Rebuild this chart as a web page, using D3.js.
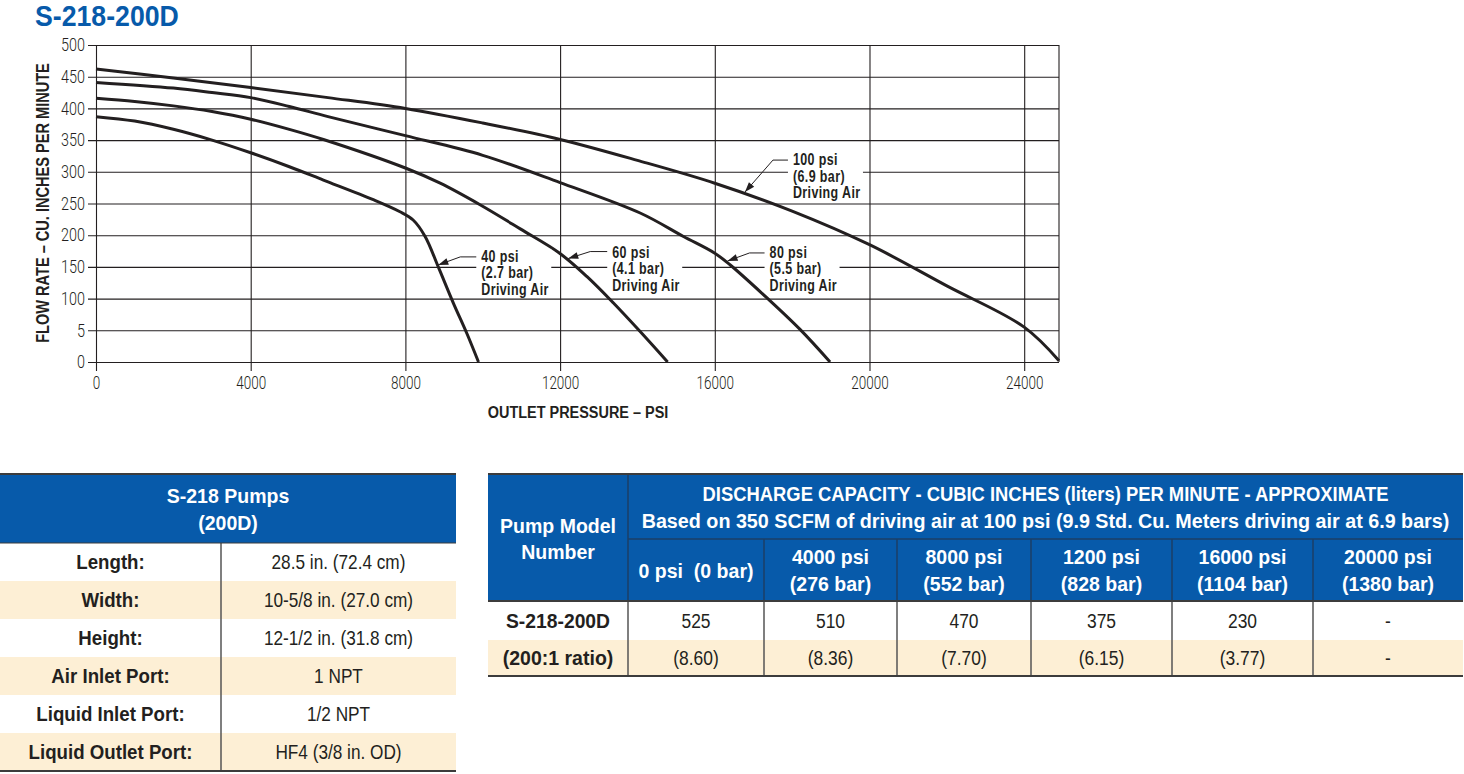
<!DOCTYPE html>
<html>
<head>
<meta charset="utf-8">
<script src="https://cdn.jsdelivr.net/npm/d3@7"></script>
<style>
  body { margin: 0; background: #fff; }
  svg { display: block; }
  text { white-space: pre; }
</style>
</head>
<body>
<script>
// ---- data ----
var pressureTicks = [0, 4000, 8000, 12000, 16000, 20000, 24000];
var flowTicks = [0, 50, 100, 150, 200, 250, 300, 350, 400, 450, 500];
var flowTickLabels = ["0", "5", "100", "150", "200", "250", "300", "350", "400", "450", "500"];

var seriesNames = ["40 psi", "60 psi", "80 psi", "100 psi"];

var p40 = [0, 1000, 2000, 3000, 4000, 5000, 5880, 7170, 7860, 8200, 8510, 8850, 9240, 9590, 9890];
var f40 = [387, 380, 367, 350, 330, 308, 287, 256, 237, 224, 198, 150, 93, 45, 0];

var p60 = [0, 1000, 2000, 3000, 4000, 5000, 5880, 8000, 8900, 9930, 10970, 11980, 12690, 13380, 14070, 14780];
var f60 = [416, 411, 404, 395, 383, 367, 351, 306, 282, 248, 210, 172, 135, 93, 48, 0];

var p80 = [0, 2000, 3000, 4000, 5000, 6000, 8000, 10000, 12000, 14070, 15190, 15990, 16400, 17350, 18210, 18980];
var f80 = [441, 432, 425, 417, 403, 387, 357, 326, 283, 235, 198, 172, 153, 101, 51, 0];

var p100 = [0, 2000, 4000, 6000, 8000, 10000, 12000, 14000, 16000, 18000, 20000, 22000, 24000, 24900];
var f100 = [462, 448, 433, 417, 400, 377, 351, 318, 282, 238, 185, 120, 55, 2];

var annoLines = [
  ["40 psi", "(2.7 bar)", "Driving Air"],
  ["60 psi", "(4.1 bar)", "Driving Air"],
  ["80 psi", "(5.5 bar)", "Driving Air"],
  ["100 psi", "(6.9 bar)", "Driving Air"]
];
var annoTipPressure = [8850, 12210, 16330, 16780];

var specLabels = ["Length:", "Width:", "Height:", "Air Inlet Port:", "Liquid Inlet Port:", "Liquid Outlet Port:"];
var specValues = ["28.5 in. (72.4 cm)", "10-5/8 in. (27.0 cm)", "12-1/2 in. (31.8 cm)", "1 NPT", "1/2 NPT", "HF4 (3/8 in. OD)"];

var capHeads = [["0 psi  (0 bar)"], ["4000 psi", "(276 bar)"], ["8000 psi", "(552 bar)"],
  ["1200 psi", "(828 bar)"], ["16000 psi", "(1104 bar)"], ["20000 psi", "(1380 bar)"]];
var capCubic = ["525", "510", "470", "375", "230", "-"];
var capLiters = ["(8.60)", "(8.36)", "(7.70)", "(6.15)", "(3.77)", "-"];

// ---- drawing ----
var W = 1464, H = 774;
var INK = "#231f20", BLUE = "#075aaa", CREAM = "#fdefd5", RULE = "#3c3c3c";
var SANS = "'Liberation Sans', Arial, sans-serif";
var THIN = "Roboto, 'Liberation Sans', sans-serif";

var svg = d3.select("body").append("svg").attr("width", W).attr("height", H);

// text helper, sx squeezes the glyphs to get a condensed face
function put(g, x, y, s, o) {
  o = o || {};
  return g.append("text")
    .attr("transform", "translate(" + x + "," + y + ")" + (o.rot ? " rotate(" + o.rot + ")" : "") +
      " scale(" + (o.sx || 1) + ",1)")
    .attr("text-anchor", o.anchor || "start")
    .style("font-family", o.font || SANS)
    .style("font-size", (o.size || 16) + "px")
    .style("font-weight", o.weight || "normal")
    .style("letter-spacing", o.ls || 0)
    .attr("fill", o.fill || INK)
    .text(s);
}

put(svg, 35, 26, "S-218-200D", {size: 29, weight: "bold", sx: 0.92, fill: BLUE});

var x = d3.scaleLinear().domain([0, 24900]).range([96, 1059]);
var y = d3.scaleLinear().domain([0, 500]).range([362, 45]);

var chart = svg.append("g");

var yAxis = d3.axisLeft(y).tickValues(flowTicks).tickSize(-(1059 - 88)).tickPadding(4)
  .tickFormat(function(d) { return flowTickLabels[flowTicks.indexOf(d)]; });
chart.append("g").attr("transform", "translate(88,0)").call(yAxis)
  .call(function(g) { g.select(".domain").remove(); });

var xAxis = d3.axisBottom(x).tickValues(pressureTicks).tickSize(-(371 - 45)).tickPadding(5)
  .tickFormat(d3.format("d"));
chart.append("g").attr("transform", "translate(0,371)").call(xAxis)
  .call(function(g) { g.select(".domain").remove(); });

chart.selectAll(".tick line").attr("stroke", INK).attr("stroke-width", 1.1);
chart.selectAll(".tick text").attr("fill", INK)
  .style("font-family", THIN).style("font-size", "18px").style("font-weight", 300);
chart.selectAll("g[text-anchor=end] .tick text").attr("x", 0)
  .attr("transform", "translate(-3,0) scale(0.8,1)");
chart.selectAll("g[text-anchor=middle] .tick text").attr("transform", "scale(0.75,1)");

// right frame edge
chart.append("line")
  .attr("x1", x(24900)).attr("x2", x(24900)).attr("y1", y(0)).attr("y2", y(500))
  .attr("stroke", INK).attr("stroke-width", 1.1);

// axis titles
put(chart, 49, 203, "FLOW RATE \u2013 CU. INCHES PER MINUTE",
  {size: 18, weight: "bold", anchor: "middle", rot: -90, sx: 0.81});
put(chart, 578, 418, "OUTLET PRESSURE \u2013 PSI",
  {size: 17, weight: "bold", anchor: "middle", sx: 0.85});

// curves
var pts = [d3.zip(p40, f40), d3.zip(p60, f60), d3.zip(p80, f80), d3.zip(p100, f100)];
var line = d3.line().x(function(d) { return x(d[0]); }).y(function(d) { return y(d[1]); })
  .curve(d3.curveCatmullRom.alpha(0.5));
chart.selectAll(".curve").data(pts).enter().append("path")
  .attr("class", "curve")
  .attr("d", line)
  .attr("fill", "none")
  .attr("stroke", INK)
  .attr("stroke-width", 3)
  .attr("stroke-linejoin", "round");

// annotations
function flowAt(p, ps, fs) {
  var i = d3.bisectRight(ps, p) - 1;
  i = Math.max(0, Math.min(ps.length - 2, i));
  var t = (p - ps[i]) / (ps[i + 1] - ps[i]);
  return fs[i] + t * (fs[i + 1] - fs[i]);
}
var pArr = [p40, p60, p80, p100], fArr = [f40, f60, f80, f100];
// elbow offsets (px) from the arrow tip, and text baseline offset
var elbow = [[22, -8], [22, -7], [22, -8], [28, -32]];
var leadLen = [16, 17, 15, 15];
var textShift = [0, 1, 0, 0];

annoLines.forEach(function(lines, k) {
  var tp = annoTipPressure[k];
  var tx = x(tp), ty = y(flowAt(tp, pArr[k], fArr[k])) - 2;
  var ex = tx + elbow[k][0], ey = ty + elbow[k][1];
  var hx = ex + leadLen[k];
  var g = chart.append("g");
  g.append("rect")
    .attr("x", hx).attr("y", ey - 8 + textShift[k])
    .attr("width", 75).attr("height", 48)
    .attr("fill", "#fff");
  g.append("path")
    .attr("d", "M" + tx + "," + ty + "L" + ex + "," + ey + "H" + hx)
    .attr("fill", "none").attr("stroke", INK).attr("stroke-width", 1);
  var a = Math.atan2(ty - ey, tx - ex);
  var L = 10, w = 3.5;
  var bx = tx - L * Math.cos(a), by = ty - L * Math.sin(a);
  g.append("path")
    .attr("d", "M" + tx + "," + ty +
      "L" + (bx - w * Math.sin(a)) + "," + (by + w * Math.cos(a)) +
      "L" + (bx + w * Math.sin(a)) + "," + (by - w * Math.cos(a)) + "Z")
    .attr("fill", INK);
  lines.forEach(function(s, j) {
    put(g, hx + 5, ey + 5 + textShift[k] + j * 16.5, s, {size: 16, weight: "bold", sx: 0.78, ls: "0.5px"});
  });
});

// ---- left spec table ----
var lt = svg.append("g");
var ltTop = 474, ltHead = 69, rowH = 38, ltW = 456, ltSplit = 221;
lt.append("rect").attr("x", 0).attr("y", ltTop).attr("width", ltW).attr("height", ltHead).attr("fill", BLUE);
specLabels.forEach(function(s, i) {
  var y0 = ltTop + ltHead + i * rowH;
  lt.append("rect").attr("x", 0).attr("y", y0).attr("width", ltW).attr("height", rowH)
    .attr("fill", i % 2 ? CREAM : "#fff");
  put(lt, ltSplit / 2, y0 + 26, s, {size: 21, weight: "bold", anchor: "middle", sx: 0.89});
  put(lt, (ltSplit + ltW) / 2, y0 + 26, specValues[i], {size: 21, anchor: "middle", sx: 0.82});
});
put(lt, ltW / 2, 503, "S-218 Pumps", {size: 21, weight: "bold", anchor: "middle", sx: 0.93, fill: "#fff"});
put(lt, ltW / 2, 530, "(200D)", {size: 21, weight: "bold", anchor: "middle", sx: 0.93, fill: "#fff"});
var ltBottom = ltTop + ltHead + specLabels.length * rowH;
lt.append("line").attr("x1", ltSplit).attr("x2", ltSplit).attr("y1", ltTop + ltHead).attr("y2", ltBottom)
  .attr("stroke", "#555").attr("stroke-width", 1.5);
[ltTop, ltTop + ltHead, ltBottom].forEach(function(yy, i) {
  lt.append("line").attr("x1", 0).attr("x2", ltW).attr("y1", yy).attr("y2", yy)
    .attr("stroke", RULE).attr("stroke-width", i === 1 ? 1.2 : 2);
});

// ---- right capacity table ----
var rt = svg.append("g");
var cols = [488, 628, 764, 897, 1031, 1172, 1313, 1463];
var rTop = 474, rMid = 539, rHeadEnd = 601, rRow1 = 640, rEnd = 676;
rt.append("rect").attr("x", cols[0]).attr("y", rTop).attr("width", cols[7] - cols[0])
  .attr("height", rHeadEnd - rTop).attr("fill", BLUE);
rt.append("rect").attr("x", cols[0]).attr("y", rRow1).attr("width", cols[7] - cols[0])
  .attr("height", rEnd - rRow1).attr("fill", CREAM);

var hOpt = {size: 21, weight: "bold", anchor: "middle", sx: 0.93, fill: "#fff"};
var midX = (cols[1] + cols[7]) / 2;
put(rt, midX, 501, "DISCHARGE CAPACITY - CUBIC INCHES (liters) PER MINUTE - APPROXIMATE",
  Object.assign({}, hOpt, {sx: 0.876}));
put(rt, midX, 528, "Based on 350 SCFM of driving air at 100 psi (9.9 Std. Cu. Meters driving air at 6.9 bars)",
  Object.assign({}, hOpt, {sx: 0.94}));
put(rt, (cols[0] + cols[1]) / 2, 533, "Pump Model", hOpt);
put(rt, (cols[0] + cols[1]) / 2, 559, "Number", hOpt);
capHeads.forEach(function(lines, i) {
  var cx = (cols[i + 1] + cols[i + 2]) / 2;
  if (lines.length === 1) {
    put(rt, cx, 578, lines[0], hOpt);
  } else {
    put(rt, cx, 564, lines[0], hOpt);
    put(rt, cx, 591, lines[1], hOpt);
  }
  put(rt, cx, 628, capCubic[i], {size: 21, anchor: "middle", sx: 0.83});
  put(rt, cx, 665, capLiters[i], {size: 21, anchor: "middle", sx: 0.83});
});
put(rt, (cols[0] + cols[1]) / 2, 628, "S-218-200D", {size: 21, weight: "bold", anchor: "middle", sx: 0.92});
put(rt, (cols[0] + cols[1]) / 2, 665, "(200:1 ratio)", {size: 21, weight: "bold", anchor: "middle", sx: 0.93});

cols.slice(1, 7).forEach(function(cx, i) {
  rt.append("line").attr("x1", cx).attr("x2", cx).attr("y1", i === 0 ? rTop : rMid).attr("y2", rHeadEnd)
    .attr("stroke", "#1d3f66").attr("stroke-width", 1.5);
  rt.append("line").attr("x1", cx).attr("x2", cx).attr("y1", rHeadEnd).attr("y2", rEnd)
    .attr("stroke", "#555").attr("stroke-width", 1.5);
});
rt.append("line").attr("x1", cols[1]).attr("x2", cols[7]).attr("y1", rMid).attr("y2", rMid)
  .attr("stroke", "#1d3f66").attr("stroke-width", 1.5);
[rTop, rHeadEnd, rEnd].forEach(function(yy) {
  rt.append("line").attr("x1", cols[0]).attr("x2", cols[7]).attr("y1", yy).attr("y2", yy)
    .attr("stroke", RULE).attr("stroke-width", 2);
});
</script>
</body>
</html>
